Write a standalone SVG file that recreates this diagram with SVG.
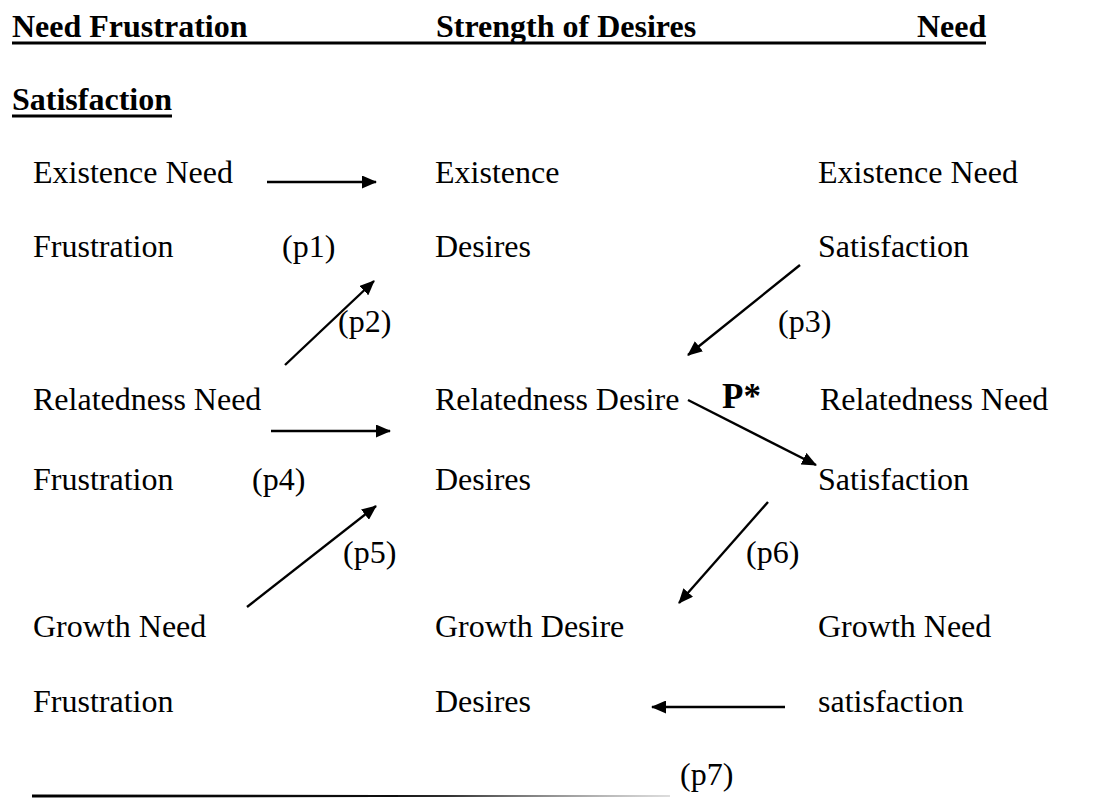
<svg xmlns="http://www.w3.org/2000/svg" width="1113" height="799" viewBox="0 0 1113 799">
<style>
text{font-family:"Liberation Serif","Times New Roman",serif;font-size:32px;fill:#000}
.b{font-weight:bold}
.pstar{font-size:35px}
.c{stroke:#000;stroke-width:2.4;fill:none;marker-end:url(#ah)}
.u{stroke:#000;stroke-width:3}
</style>
<defs>
<marker id="ah" viewBox="0 0 15 13" refX="14" refY="6.5" markerWidth="15" markerHeight="13" markerUnits="userSpaceOnUse" orient="auto">
<path d="M0,0 L15,6.5 L0,13 z" fill="#000"/>
</marker>
<linearGradient id="fade" gradientUnits="userSpaceOnUse" x1="32" y1="0" x2="670" y2="0">
<stop offset="0" stop-color="#000"/>
<stop offset="0.65" stop-color="#111"/>
<stop offset="1" stop-color="#bbb"/>
</linearGradient>
</defs>
<rect width="1113" height="799" fill="#fff"/>
<g id="header">
<text class="b" x="12" y="37">Need Frustration</text>
<text class="b" x="436" y="37">Strength of Desires</text>
<text class="b" x="917" y="37">Need</text>
<line class="u" x1="12" y1="43" x2="986" y2="43"/>
<text class="b" x="12" y="110">Satisfaction</text>
<line class="u" x1="12" y1="116" x2="172" y2="116"/>
</g>
<g id="n-existence-need-frustration">
<text x="33" y="183">Existence Need</text>
<text x="33" y="257">Frustration</text>
</g>
<g id="n-existence-desires">
<text x="435" y="183">Existence</text>
<text x="435" y="257">Desires</text>
</g>
<g id="n-existence-need-satisfaction">
<text x="818" y="183">Existence Need</text>
<text x="818" y="257">Satisfaction</text>
</g>
<g id="n-relatedness-need-frustration">
<text x="33" y="410">Relatedness Need</text>
<text x="33" y="490">Frustration</text>
</g>
<g id="n-relatedness-desires">
<text x="435" y="410">Relatedness Desire</text>
<text x="435" y="490">Desires</text>
</g>
<g id="n-relatedness-need-satisfaction">
<text x="820" y="410">Relatedness Need</text>
<text x="818" y="490">Satisfaction</text>
</g>
<g id="n-growth-need-frustration">
<text x="33" y="637">Growth Need</text>
<text x="33" y="712">Frustration</text>
</g>
<g id="n-growth-desires">
<text x="435" y="637">Growth Desire</text>
<text x="435" y="712">Desires</text>
</g>
<g id="n-growth-need-satisfaction">
<text x="818" y="637">Growth Need</text>
<text x="818" y="712">satisfaction</text>
</g>
<g id="connectors">
<line class="c" x1="267" y1="182" x2="376" y2="182"/>
<line class="c" x1="285" y1="365" x2="374" y2="281"/>
<line class="c" x1="800" y1="265" x2="688" y2="355"/>
<line class="c" x1="271" y1="431" x2="390" y2="431"/>
<line class="c" x1="688" y1="400" x2="816" y2="465"/>
<line class="c" x1="247" y1="607" x2="376" y2="506"/>
<line class="c" x1="768" y1="502" x2="679" y2="603"/>
<line class="c" x1="785" y1="707" x2="652" y2="707"/>
<polygon points="32,794.4 670,795.5 670,796.5 32,797.6" fill="url(#fade)"/>
</g>
<g id="labels">
<text x="282" y="257">(p1)</text>
<text x="338" y="332">(p2)</text>
<text x="778" y="332">(p3)</text>
<text x="252" y="490">(p4)</text>
<text class="b pstar" x="722" y="408">P*</text>
<text x="343" y="563">(p5)</text>
<text x="746" y="563">(p6)</text>
<text x="680" y="785">(p7)</text>
</g>
</svg>
